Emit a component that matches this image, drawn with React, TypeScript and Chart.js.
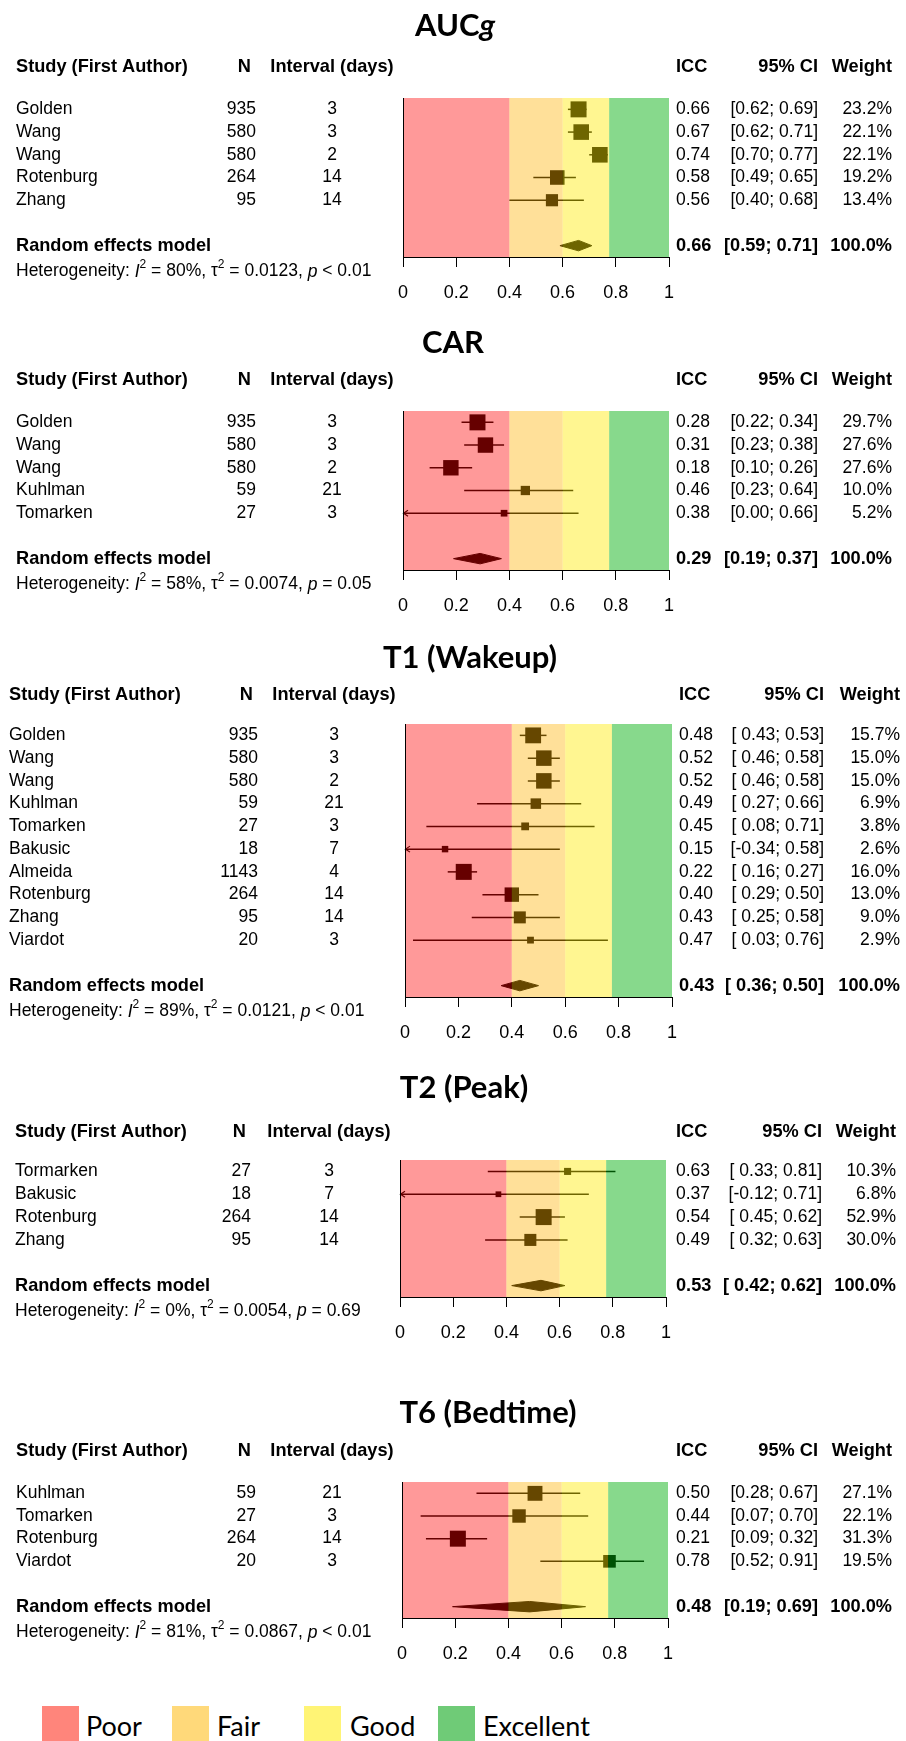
import React, { useEffect, useRef } from "react";
import { Chart, registerables } from "chart.js";

Chart.register(...registerables);

// ---------------- DATA ----------------
// AUCg
const aucgStudies = ["Golden", "Wang", "Wang", "Rotenburg", "Zhang"];
const aucgN = [935, 580, 580, 264, 95];
const aucgInterval = [3, 3, 2, 14, 14];
const aucgIcc = [0.66, 0.67, 0.74, 0.58, 0.56];
const aucgLower = [0.62, 0.62, 0.7, 0.49, 0.4];
const aucgUpper = [0.69, 0.71, 0.77, 0.65, 0.68];
const aucgWeight = [23.2, 22.1, 22.1, 19.2, 13.4];
const aucgModel = [0.66, 0.59, 0.71]; // estimate, lower, upper
const aucgHet = ["80%", "0.0123", "< 0.01"]; // I2, tau2, p

// CAR
const carStudies = ["Golden", "Wang", "Wang", "Kuhlman", "Tomarken"];
const carN = [935, 580, 580, 59, 27];
const carInterval = [3, 3, 2, 21, 3];
const carIcc = [0.28, 0.31, 0.18, 0.46, 0.38];
const carLower = [0.22, 0.23, 0.1, 0.23, 0.0];
const carUpper = [0.34, 0.38, 0.26, 0.64, 0.66];
const carWeight = [29.7, 27.6, 27.6, 10.0, 5.2];
const carModel = [0.29, 0.19, 0.37];
const carHet = ["58%", "0.0074", "= 0.05"];

// T1 (Wakeup)
const t1Studies = ["Golden", "Wang", "Wang", "Kuhlman", "Tomarken", "Bakusic", "Almeida", "Rotenburg", "Zhang", "Viardot"];
const t1N = [935, 580, 580, 59, 27, 18, 1143, 264, 95, 20];
const t1Interval = [3, 3, 2, 21, 3, 7, 4, 14, 14, 3];
const t1Icc = [0.48, 0.52, 0.52, 0.49, 0.45, 0.15, 0.22, 0.4, 0.43, 0.47];
const t1Lower = [0.43, 0.46, 0.46, 0.27, 0.08, -0.34, 0.16, 0.29, 0.25, 0.03];
const t1Upper = [0.53, 0.58, 0.58, 0.66, 0.71, 0.58, 0.27, 0.5, 0.58, 0.76];
const t1Weight = [15.7, 15.0, 15.0, 6.9, 3.8, 2.6, 16.0, 13.0, 9.0, 2.9];
const t1Model = [0.43, 0.36, 0.5];
const t1Het = ["89%", "0.0121", "< 0.01"];

// T2 (Peak)
const t2Studies = ["Tormarken", "Bakusic", "Rotenburg", "Zhang"];
const t2N = [27, 18, 264, 95];
const t2Interval = [3, 7, 14, 14];
const t2Icc = [0.63, 0.37, 0.54, 0.49];
const t2Lower = [0.33, -0.12, 0.45, 0.32];
const t2Upper = [0.81, 0.71, 0.62, 0.63];
const t2Weight = [10.3, 6.8, 52.9, 30.0];
const t2Model = [0.53, 0.42, 0.62];
const t2Het = ["0%", "0.0054", "= 0.69"];

// T6 (Bedtime)
const t6Studies = ["Kuhlman", "Tomarken", "Rotenburg", "Viardot"];
const t6N = [59, 27, 264, 20];
const t6Interval = [21, 3, 14, 3];
const t6Icc = [0.5, 0.44, 0.21, 0.78];
const t6Lower = [0.28, 0.07, 0.09, 0.52];
const t6Upper = [0.67, 0.7, 0.32, 0.91];
const t6Weight = [27.1, 22.1, 31.3, 19.5];
const t6Model = [0.48, 0.19, 0.69];
const t6Het = ["81%", "0.0867", "< 0.01"];

const xTickValues = [0, 0.2, 0.4, 0.6, 0.8, 1];
const categoryNames = ["Poor", "Fair", "Good", "Excellent"];
const categoryEdges = [0, 0.4, 0.6, 0.775, 1];

// ---------------- STYLE ----------------
const BODY = '"Liberation Sans", Arial, Helvetica, sans-serif';
const TITLE_FONT = 'Lato, "Open Sans", sans-serif';
const FS = 17.5;
const FS_BOLD = 18.2;
const TITLE_FS = 31;
const TICK_FS = 18;
const SQ_MAX = 16;
const DIAMOND_HALF = 0.23;
const AXIS_H = 47;
const OVERLAY = ["rgba(255,0,0,0.4)", "rgba(255,178,0,0.4)", "rgba(255,235,0,0.43)", "rgba(0,174,10,0.47)"];
const LEGEND_COLORS = ["#FF857B", "#FFD97A", "#FFF475", "#6FCB77"];
const LEGEND_SQ_X = [42, 172, 304, 438];
const LEGEND_TXT_X = [86, 217, 350, 483];

type Spec = {
  title: string;
  titleItalic: string;
  studies: string[];
  n: number[];
  interval: number[];
  icc: number[];
  lower: number[];
  upper: number[];
  weight: number[];
  model: number[];
  het: string[];
};

type Layout = {
  top: number; height: number;
  plotTop: number; plotBottom: number; plotLeft: number; plotRight: number;
  titleX: number; titleY: number; headerY: number;
  study: number; nRight: number; intC: number; icc: number; ciR: number; wR: number;
};

const PANELS: Spec[] = [
  { title: "AUC", titleItalic: "g", studies: aucgStudies, n: aucgN, interval: aucgInterval, icc: aucgIcc, lower: aucgLower, upper: aucgUpper, weight: aucgWeight, model: aucgModel, het: aucgHet },
  { title: "CAR", titleItalic: "", studies: carStudies, n: carN, interval: carInterval, icc: carIcc, lower: carLower, upper: carUpper, weight: carWeight, model: carModel, het: carHet },
  { title: "T1 (Wakeup)", titleItalic: "", studies: t1Studies, n: t1N, interval: t1Interval, icc: t1Icc, lower: t1Lower, upper: t1Upper, weight: t1Weight, model: t1Model, het: t1Het },
  { title: "T2 (Peak)", titleItalic: "", studies: t2Studies, n: t2N, interval: t2Interval, icc: t2Icc, lower: t2Lower, upper: t2Upper, weight: t2Weight, model: t2Model, het: t2Het },
  { title: "T6 (Bedtime)", titleItalic: "", studies: t6Studies, n: t6N, interval: t6Interval, icc: t6Icc, lower: t6Lower, upper: t6Upper, weight: t6Weight, model: t6Model, het: t6Het },
];

const LAYOUTS: Layout[] = [
  { top: 0, height: 305, plotTop: 98, plotBottom: 257, plotLeft: 403, plotRight: 669, titleX: 455, titleY: 26, headerY: 67, study: 16, nRight: 256, intC: 332, icc: 676, ciR: 818, wR: 892 },
  { top: 305, height: 315, plotTop: 411, plotBottom: 570, plotLeft: 403, plotRight: 669, titleX: 453, titleY: 343, headerY: 380, study: 16, nRight: 256, intC: 332, icc: 676, ciR: 818, wR: 892 },
  { top: 620, height: 430, plotTop: 724, plotBottom: 997, plotLeft: 405, plotRight: 672, titleX: 470, titleY: 658, headerY: 695, study: 9, nRight: 258, intC: 334, icc: 679, ciR: 824, wR: 900 },
  { top: 1050, height: 325, plotTop: 1160, plotBottom: 1297, plotLeft: 400, plotRight: 666, titleX: 464, titleY: 1088, headerY: 1132, study: 15, nRight: 251, intC: 329, icc: 676, ciR: 822, wR: 896 },
  { top: 1375, height: 325, plotTop: 1482, plotBottom: 1618, plotLeft: 402, plotRight: 668, titleX: 488, titleY: 1413, headerY: 1451, study: 16, nRight: 256, intC: 332, icc: 676, ciR: 818, wR: 892 },
];

function setFont(ctx: CanvasRenderingContext2D, size: number, bold = false, italic = false, family = BODY) {
  ctx.font = `${italic ? "italic " : ""}${bold ? "bold " : ""}${size}px ${family}`;
}

function fmtCI(lo: number, hi: number, pad: boolean) {
  const f = (v: number) => (v < 0 ? "-" + Math.abs(v).toFixed(2) : v.toFixed(2));
  return `[${pad && lo >= 0 ? " " : ""}${f(lo)}; ${f(hi)}]`;
}

function ForestPanel({ spec, L }: { spec: Spec; L: Layout }) {
  const ref = useRef<HTMLCanvasElement>(null);

  useEffect(() => {
    const canvas = ref.current;
    if (!canvas) return;
    const n = spec.studies.length;
    const wmax = Math.max(...spec.weight);
    const pad = spec.lower.some((v) => v < 0);

    const datasets: any[] = [];
    spec.lower.forEach((lo, i) => {
      datasets.push({
        type: "line",
        label: "CI " + spec.studies[i],
        data: [{ x: lo, y: i }, { x: spec.upper[i], y: i }],
        borderColor: "#000",
        borderWidth: 1.5,
        pointRadius: 0,
        fill: false,
      });
    });
    datasets.push({
      type: "line",
      label: "ICC",
      showLine: false,
      data: spec.icc.map((v, i) => ({ x: v, y: i })),
      pointStyle: "rect",
      pointRadius: spec.weight.map((w) => (SQ_MAX * Math.sqrt(w / wmax)) / Math.SQRT2),
      backgroundColor: "#000",
      borderColor: "#000",
      borderWidth: 0,
    });
    const [est, mlo, mhi] = spec.model;
    const ym = n + 1;
    datasets.push({
      type: "line",
      label: "Random effects model",
      data: [
        { x: mlo, y: ym },
        { x: est, y: ym - DIAMOND_HALF },
        { x: mhi, y: ym },
        { x: est, y: ym + DIAMOND_HALF },
        { x: mlo, y: ym },
      ],
      fill: "shape",
      backgroundColor: "#000",
      borderColor: "#000",
      borderWidth: 1,
      pointRadius: 0,
      tension: 0,
    });

    const deco = {
      id: "forestDeco",
      afterDatasetsDraw(chart: any) {
        const { ctx, chartArea: ca, scales } = chart;
        const xs = scales.x;
        const ys = scales.y;
        ctx.save();
        // arrows for truncated CIs
        ctx.strokeStyle = "#000";
        ctx.lineWidth = 1.2;
        spec.lower.forEach((lo, i) => {
          if (lo <= 0) {
            const px = xs.getPixelForValue(0);
            const py = ys.getPixelForValue(i);
            ctx.beginPath();
            ctx.moveTo(px + 5, py - 3);
            ctx.lineTo(px + 0.5, py);
            ctx.lineTo(px + 5, py + 3);
            ctx.stroke();
          }
        });
        // category bands (translucent overlay)
        for (let k = 0; k < categoryNames.length; k++) {
          const x0 = xs.getPixelForValue(categoryEdges[k]);
          const x1 = xs.getPixelForValue(categoryEdges[k + 1]);
          ctx.fillStyle = OVERLAY[k];
          ctx.fillRect(x0, ca.top, x1 - x0, ca.bottom - ca.top);
        }
        // reference line at 0
        const p0 = Math.round(xs.getPixelForValue(0)) + 0.5;
        ctx.strokeStyle = "#000";
        ctx.lineWidth = 1;
        ctx.beginPath();
        ctx.moveTo(p0, ca.top);
        ctx.lineTo(p0, ca.bottom + 1);
        ctx.stroke();
        ctx.restore();
      },
      afterDraw(chart: any) {
        const { ctx, scales } = chart;
        const ys = scales.y;
        const off = L.top;
        ctx.save();
        ctx.fillStyle = "#000";
        ctx.textBaseline = "middle";

        // title
        setFont(ctx, TITLE_FS, true, false, TITLE_FONT);
        const w1 = ctx.measureText(spec.title).width;
        setFont(ctx, TITLE_FS, true, true, TITLE_FONT);
        const w2 = spec.titleItalic ? ctx.measureText(spec.titleItalic).width : 0;
        const tx = L.titleX - (w1 + w2) / 2;
        ctx.textAlign = "left";
        setFont(ctx, TITLE_FS, true, false, TITLE_FONT);
        ctx.fillText(spec.title, tx, L.titleY - off);
        if (spec.titleItalic) {
          setFont(ctx, TITLE_FS, true, true, TITLE_FONT);
          ctx.fillText(spec.titleItalic, tx + w1, L.titleY - off);
        }

        // headers
        const hy = L.headerY - off;
        setFont(ctx, FS_BOLD, true);
        ctx.textAlign = "left";
        ctx.fillText("Study (First Author)", L.study, hy);
        ctx.textAlign = "right";
        ctx.fillText("N", L.nRight - 5, hy);
        ctx.textAlign = "center";
        ctx.fillText("Interval (days)", L.intC, hy);
        ctx.textAlign = "left";
        ctx.fillText("ICC", L.icc, hy);
        ctx.textAlign = "right";
        ctx.fillText("95% CI", L.ciR, hy);
        ctx.fillText("Weight", L.wR, hy);

        // rows
        setFont(ctx, FS);
        spec.studies.forEach((s, i) => {
          const yy = ys.getPixelForValue(i);
          ctx.textAlign = "left";
          ctx.fillText(s, L.study, yy);
          ctx.textAlign = "right";
          ctx.fillText(String(spec.n[i]), L.nRight, yy);
          ctx.textAlign = "center";
          ctx.fillText(String(spec.interval[i]), L.intC, yy);
          ctx.textAlign = "left";
          ctx.fillText(spec.icc[i].toFixed(2), L.icc, yy);
          ctx.textAlign = "right";
          ctx.fillText(fmtCI(spec.lower[i], spec.upper[i], pad), L.ciR, yy);
          ctx.fillText(spec.weight[i].toFixed(1) + "%", L.wR, yy);
        });

        // model row
        const my = ys.getPixelForValue(n + 1);
        setFont(ctx, FS_BOLD, true);
        ctx.textAlign = "left";
        ctx.fillText("Random effects model", L.study, my);
        ctx.fillText(est.toFixed(2), L.icc, my);
        ctx.textAlign = "right";
        ctx.fillText(fmtCI(mlo, mhi, pad), L.ciR, my);
        ctx.fillText("100.0%", L.wR, my);

        // heterogeneity
        const hy2 = my + 26;
        let hx = L.study;
        ctx.textAlign = "left";
        const piece = (t: string, italic = false, sup = false) => {
          setFont(ctx, sup ? 12 : FS, false, italic);
          ctx.fillText(t, hx, sup ? hy2 - 7 : hy2);
          hx += ctx.measureText(t).width;
        };
        piece("Heterogeneity: ");
        piece("I", true);
        piece("2", false, true);
        piece(" = " + spec.het[0] + ", ");
        piece("\u03C4");
        piece("2", false, true);
        piece(" = " + spec.het[1] + ", ");
        piece("p", true);
        piece(" " + spec.het[2]);
        ctx.restore();
      },
    };

    const chart = new Chart(canvas, {
      type: "line",
      data: { datasets },
      options: {
        animation: false,
        responsive: false,
        devicePixelRatio: 1,
        events: [],
        layout: {
          padding: {
            left: L.plotLeft,
            right: 906 - L.plotRight,
            top: L.plotTop - L.top,
            bottom: L.height - (L.plotBottom - L.top) - AXIS_H,
          },
        },
        plugins: { legend: { display: false }, tooltip: { enabled: false } },
        scales: {
          x: {
            type: "linear",
            min: 0,
            max: 1,
            position: "bottom",
            afterBuildTicks: (s: any) => {
              s.ticks = xTickValues.map((v) => ({ value: v }));
            },
            afterFit: (s: any) => {
              s.height = AXIS_H;
            },
            ticks: {
              color: "#000",
              font: { family: BODY, size: TICK_FS },
              padding: 15,
              maxRotation: 0,
              autoSkip: false,
              callback: (v: any) => String(v),
            },
            grid: { drawOnChartArea: false, drawTicks: true, tickLength: 10, color: "#000", lineWidth: 1 },
            border: { display: true, color: "#000", width: 1 },
          },
          y: { type: "linear", min: -0.5, max: n + 1.5, reverse: true, display: false },
        },
      } as any,
      plugins: [deco],
    });
    return () => chart.destroy();
  }, [spec, L]);

  return (
    <canvas
      ref={ref}
      width={906}
      height={L.height}
      style={{ position: "absolute", left: 0, top: L.top, width: 906, height: L.height, display: "block" }}
    />
  );
}

export default function App() {
  return (
    <div style={{ position: "absolute", left: 0, top: 0, width: 906, height: 1741, overflow: "hidden", background: "#fff" }}>
      {PANELS.map((p, i) => (
        <ForestPanel key={i} spec={p} L={LAYOUTS[i]} />
      ))}
      {categoryNames.map((name, k) => (
        <React.Fragment key={name}>
          <div
            style={{
              position: "absolute",
              left: LEGEND_SQ_X[k],
              top: 1706,
              width: 37,
              height: 35,
              background: LEGEND_COLORS[k],
            }}
          />
          <div
            style={{
              position: "absolute",
              left: LEGEND_TXT_X[k],
              top: 1709,
              height: 34,
              lineHeight: "34px",
              fontFamily: TITLE_FONT,
              fontSize: 27,
              color: "#000",
            }}
          >
            {name}
          </div>
        </React.Fragment>
      ))}
    </div>
  );
}
